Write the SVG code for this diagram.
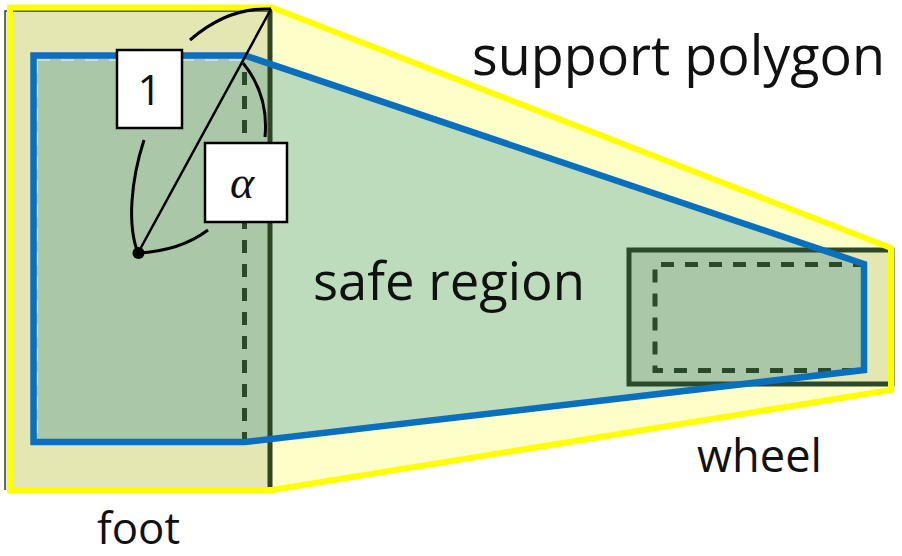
<svg xmlns="http://www.w3.org/2000/svg" width="902" height="556" viewBox="0 0 902 556">
<defs>
<style>
.lbl{font-family:"Open Sans","Noto Sans","Liberation Sans",sans-serif;fill:#111;}
.overlay{fill:#1a2a00;fill-opacity:0.11;}
.dash{fill:none;stroke:#2b4a2b;stroke-width:5;stroke-dasharray:13 11;}
.edge{fill:none;stroke:#2f4420;}
.blue{fill:none;stroke:#0a6fbd;stroke-width:6.5;stroke-linejoin:miter;}
.yel{fill:none;stroke:#ffff00;stroke-width:6;stroke-linejoin:miter;}
.box{fill:#ffffff;stroke:#000;stroke-width:2.5;}
.arc{fill:none;stroke:#000;stroke-width:3;stroke-linecap:butt;}
</style>
</defs>
<rect width="902" height="556" fill="#ffffff"/>
<g id="support-polygon-fill">
<polygon points="10,7.5 272,7.5 891,248 891,390 272,490 10,490" fill="#fefec8"/>
</g>
<g id="safe-region-fill">
<polygon points="33.5,55.5 245,55.5 864,264 864,370 245,442 33.5,442" fill="#bcdcbc"/>
</g>
<g id="foot">
<rect class="overlay" x="5" y="10" width="265" height="480"/>
<line x1="37" y1="60" x2="37" y2="440" stroke="#c9dcd8" stroke-width="2" stroke-dasharray="13 11"/>
<line x1="37" y1="60" x2="245" y2="60" stroke="#c9dcd8" stroke-width="2" stroke-dasharray="13 11"/>
<line class="dash" x1="244.5" y1="72" x2="244.5" y2="440"/>
<polyline class="edge" stroke-width="1.5" points="5,490 5,11 270,11"/>
<line class="edge" x1="270" y1="9" x2="270" y2="488" stroke-width="5"/>
</g>
<g id="wheel">
<rect class="overlay" x="629" y="250" width="263" height="134"/>
<rect x="629" y="250" width="263" height="134" fill="none" stroke="#2b4a2b" stroke-width="5"/>
<polyline class="dash" stroke-dasharray="15 10" points="866,264.5 655,264.5 655,370.5 866,370.5"/>
</g>
<g id="support-polygon">
<polygon class="yel" points="10,7.5 272,7.5 891,248 891,390 272,490 10,490"/>
</g>
<g id="safe-region">
<polygon class="blue" points="33.5,55.5 245,55.5 864,264 864,370 245,442 33.5,442"/>
</g>
<g id="connectors">
<line x1="138" y1="253" x2="271" y2="9" stroke="#000" stroke-width="2.5"/>
<path class="arc" d="M190,40 Q228,7 271,9"/>
<path class="arc" d="M144,140 C131,180 127,225 138,253"/>
<path class="arc" d="M138,253 Q180,251 208,230"/>
<path class="arc" d="M243,63 Q269,95 265,137"/>
<circle cx="138.5" cy="253" r="6" fill="#000"/>
</g>
<g id="label-1">
<rect class="box" x="117" y="50" width="65" height="78"/>
<text class="lbl" x="149.5" y="105" font-size="42" text-anchor="middle">1</text>
</g>
<g id="label-alpha">
<rect class="box" x="205" y="143" width="82" height="79"/>
<text x="242" y="198" font-size="46" font-style="italic" text-anchor="middle" font-family="'Liberation Serif','DejaVu Serif',serif" fill="#111">α</text>
</g>
<g id="texts">
<text class="lbl" x="472" y="75" font-size="55" textLength="413" lengthAdjust="spacingAndGlyphs">support polygon</text>
<text class="lbl" x="313" y="300" font-size="53" textLength="272" lengthAdjust="spacingAndGlyphs">safe region</text>
<text class="lbl" x="697" y="472" font-size="45" textLength="125" lengthAdjust="spacingAndGlyphs">wheel</text>
<text class="lbl" x="97" y="544" font-size="44" textLength="83" lengthAdjust="spacingAndGlyphs">foot</text>
</g>
</svg>
